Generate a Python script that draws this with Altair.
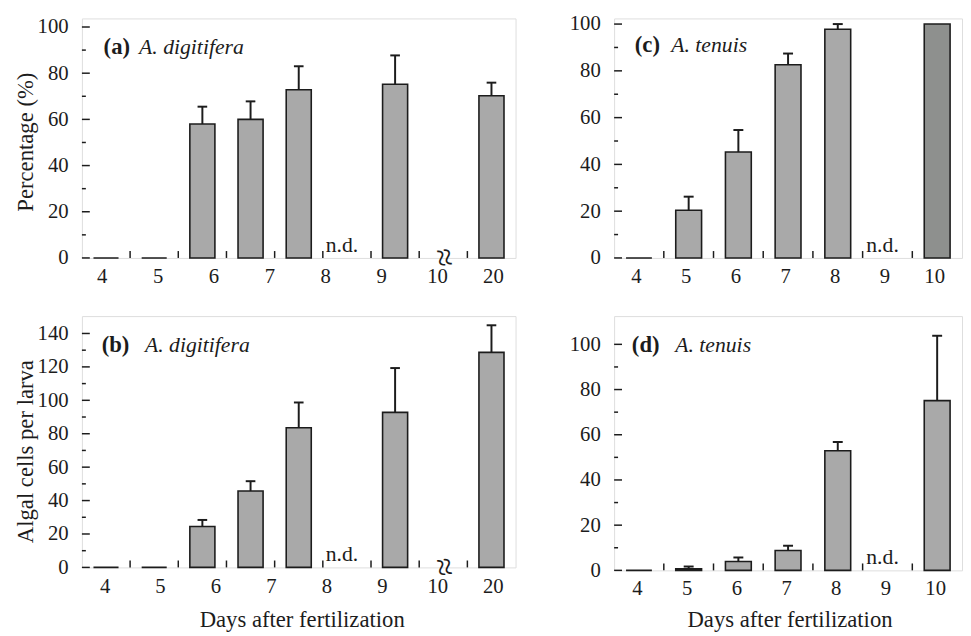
import altair as alt
import pandas as pd
import numpy as np

FONT = "Liberation Serif"
INK = "#1c1c1c"
FILL = "#a9a9a9"
FILL_DARK = "#8e908e"

# ---------- data ----------
# slot = position of the bar along the axis (one slot per day column)
a_slot = [1, 2, 3, 4, 5, 7, 9]
a_val = [0, 0, 58, 60, 72.8, 75.2, 70.2]
a_err = [0, 0, 7.5, 7.8, 10.2, 12.5, 5.7]
a_dark = [False] * 7

b_slot = [1, 2, 3, 4, 5, 7, 9]
b_val = [0, 0, 24.5, 45.7, 83.6, 92.8, 128.7]
b_err = [0, 0, 3.9, 5.9, 15.1, 26.5, 16.2]
b_dark = [False] * 7

c_slot = [1, 2, 3, 4, 5, 7]
c_val = [0, 20.4, 45.3, 82.6, 97.8, 100]
c_err = [0, 5.8, 9.4, 4.8, 2.2, 0]
c_dark = [False, False, False, False, False, True]

d_slot = [1, 2, 3, 4, 5, 7]
d_val = [0, 0.7, 3.9, 8.8, 52.9, 75.1]
d_err = [0, 1.0, 1.8, 2.1, 3.9, 28.7]
d_dark = [False] * 6

left_labels = ["4", "5", "6", "7", "8", "9", "10", "20"]
right_labels = ["4", "5", "6", "7", "8", "9", "10"]


def panel(slots, vals, errs, dark, nslots, ymax, ymajor, yminor, W, H,
          ytitle, ytitle_y, xtitle, xtitle_xy, labels, p0, dp, nd_slot, break_slot,
          tag, species, tag_x, sp_x, tag_y):
    df = pd.DataFrame({"slot": slots, "val": vals, "err": errs, "dark": dark})
    df["x0"] = df["slot"] - 0.26
    df["x1"] = df["slot"] + 0.26
    df["top"] = df["val"] + df["err"]
    df["c0"] = df["slot"] - 0.1
    df["c1"] = df["slot"] + 0.1
    dfe = df[df["err"] > 0]

    xs = alt.Scale(domain=[0.5, nslots + 0.5], nice=False, zero=False)
    ys = alt.Scale(domain=[0, ymax], nice=False)

    label_vals = [round(p0 + i * dp, 3) for i in range(len(labels))]
    arr = "[" + ",".join("'%s'" % l for l in labels) + "]"
    lexpr = "%s[round((datum.value - %s) / %s)]" % (arr, p0, dp)

    xkw = dict(values=label_vals, labelExpr=lexpr, ticks=False, domain=False,
               grid=False, labelFontSize=21, labelFont=FONT, labelPadding=8,
               labelColor=INK, labelFlush=False, labelOverlap=False,
               titleFontSize=23, titleFont=FONT, titleFontWeight="normal",
               titleColor=INK, title=xtitle)
    if xtitle is not None:
        xkw.update(titleX=xtitle_xy[0], titleY=xtitle_xy[1], titleBaseline="middle",
                   titleAlign="center")
    xaxis = alt.Axis(**xkw)
    ykw = dict(values=ymajor, ticks=False, domain=False, grid=False,
               labelFontSize=21, labelFont=FONT, labelPadding=14, labelColor=INK,
               labelFlush=False, labelOverlap=False,
               titleFontSize=23, titleFont=FONT, titleFontWeight="normal",
               titleColor=INK, title=ytitle)
    if ytitle is not None:
        ykw.update(titleX=-57, titleY=ytitle_y, titleBaseline="middle",
                   titleAlign="center", titleAngle=270)
    yaxis = alt.Axis(**ykw)

    bars = alt.Chart(df).mark_bar(stroke=INK, strokeWidth=1.6).encode(
        x=alt.X("x0:Q", scale=xs, axis=xaxis),
        x2="x1:Q",
        y=alt.Y("val:Q", scale=ys, axis=yaxis),
        y2=alt.datum(0),
        fill=alt.condition("datum.dark", alt.value(FILL_DARK), alt.value(FILL)),
    )
    err = alt.Chart(dfe).mark_rule(color=INK, strokeWidth=2).encode(
        x=alt.X("slot:Q", scale=xs, axis=xaxis),
        y=alt.Y("val:Q", scale=ys, axis=yaxis),
        y2="top:Q",
    )
    cap = alt.Chart(dfe).mark_rule(color=INK, strokeWidth=2).encode(
        x=alt.X("c0:Q", scale=xs, axis=xaxis),
        x2="c1:Q",
        y=alt.Y("top:Q", scale=ys, axis=yaxis),
    )
    tmaj = alt.Chart(pd.DataFrame({"v": ymajor})).mark_rule(color=INK, strokeWidth=1.5).encode(
        y=alt.Y("v:Q", scale=ys, axis=yaxis), x=alt.value(0), x2=alt.value(8))
    tmin = alt.Chart(pd.DataFrame({"v": yminor})).mark_rule(color=INK, strokeWidth=1.5).encode(
        y=alt.Y("v:Q", scale=ys, axis=yaxis), x=alt.value(0), x2=alt.value(4))
    bounds = [i + 0.5 for i in range(1, nslots)]
    tx = alt.Chart(pd.DataFrame({"b": bounds})).mark_rule(color=INK, strokeWidth=1.5).encode(
        x=alt.X("b:Q", scale=xs, axis=xaxis), y=alt.value(H), y2=alt.value(H - 7))
    nd = alt.Chart(pd.DataFrame({"s": [nd_slot], "t": ["n.d."]})).mark_text(
        font=FONT, fontSize=22, align="center", baseline="bottom", dx=-5, dy=-1, color=INK
    ).encode(x=alt.X("s:Q", scale=xs, axis=xaxis), y=alt.value(H), text="t:N")
    tagm = alt.Chart(pd.DataFrame({"t": [tag]})).mark_text(
        font=FONT, fontSize=23, fontWeight="bold", align="left", baseline="middle", color=INK
    ).encode(x=alt.value(tag_x), y=alt.value(tag_y), text="t:N")
    spm = alt.Chart(pd.DataFrame({"t": [species]})).mark_text(
        font=FONT, fontSize=22, fontStyle="italic", align="left", baseline="middle", color=INK
    ).encode(x=alt.value(sp_x), y=alt.value(tag_y), text="t:N")

    layers = [bars, err, cap, tmaj, tmin, tx, nd, tagm, spm]
    if break_slot is not None:
        brk = alt.Chart(pd.DataFrame({"s": [break_slot], "t": ["\u2248"]})).mark_text(
            font=FONT, fontSize=34, angle=80, align="center", baseline="middle", color=INK
        ).encode(x=alt.X("s:Q", scale=xs, axis=xaxis), y=alt.value(H), text="t:N")
        layers.append(brk)
    return alt.layer(*layers).properties(width=W, height=H)


pa = panel(a_slot, a_val, a_err, a_dark, 9, 103.7, [0, 20, 40, 60, 80, 100],
           [10, 30, 50, 70, 90], 440, 243, "Percentage (%)", 125, None, None,
           left_labels, 0.91, 1.16, 6, 8, "(a)", "A. digitifera", 22, 58, 29)
pb = panel(b_slot, b_val, b_err, b_dark, 9, 150.4, [0, 20, 40, 60, 80, 100, 120, 140],
           [10, 30, 50, 70, 90, 110, 130], 440, 255, "Algal cells per larva", 137,
           "Days after fertilization", (223, 53), left_labels, 0.97, 1.151, 6, 8,
           "(b)", "A. digitifera", 20, 64, 29)
pc = panel(c_slot, c_val, c_err, c_dark, 7, 102.4, [0, 20, 40, 60, 80, 100],
           [10, 30, 50, 70, 90], 353, 243, None, None, None, None,
           right_labels, 0.94, 1.0, 6, None, "(c)", "A. tenuis", 21, 58, 27)
pd_ = panel(d_slot, d_val, d_err, d_dark, 7, 112.5, [0, 20, 40, 60, 80, 100],
            [10, 30, 50, 70, 90], 353, 258, None, None, "Days after fertilization", (178, 50),
            right_labels, 0.96, 1.0, 6, None, "(d)", "A. tenuis", 18, 62, 29)

chart = alt.concat(pa, pc, pb, pd_, columns=2,
                   spacing=alt.RowColnumber(row=59, column=100),
                   bounds="flush", align="each").properties(
    padding={"left": 6, "top": 0, "right": 0, "bottom": 0}
).configure_view(stroke=INK, strokeWidth=1.6).configure(font=FONT)

chart.save("out.html", embed_options={"renderer": "svg", "actions": False})
